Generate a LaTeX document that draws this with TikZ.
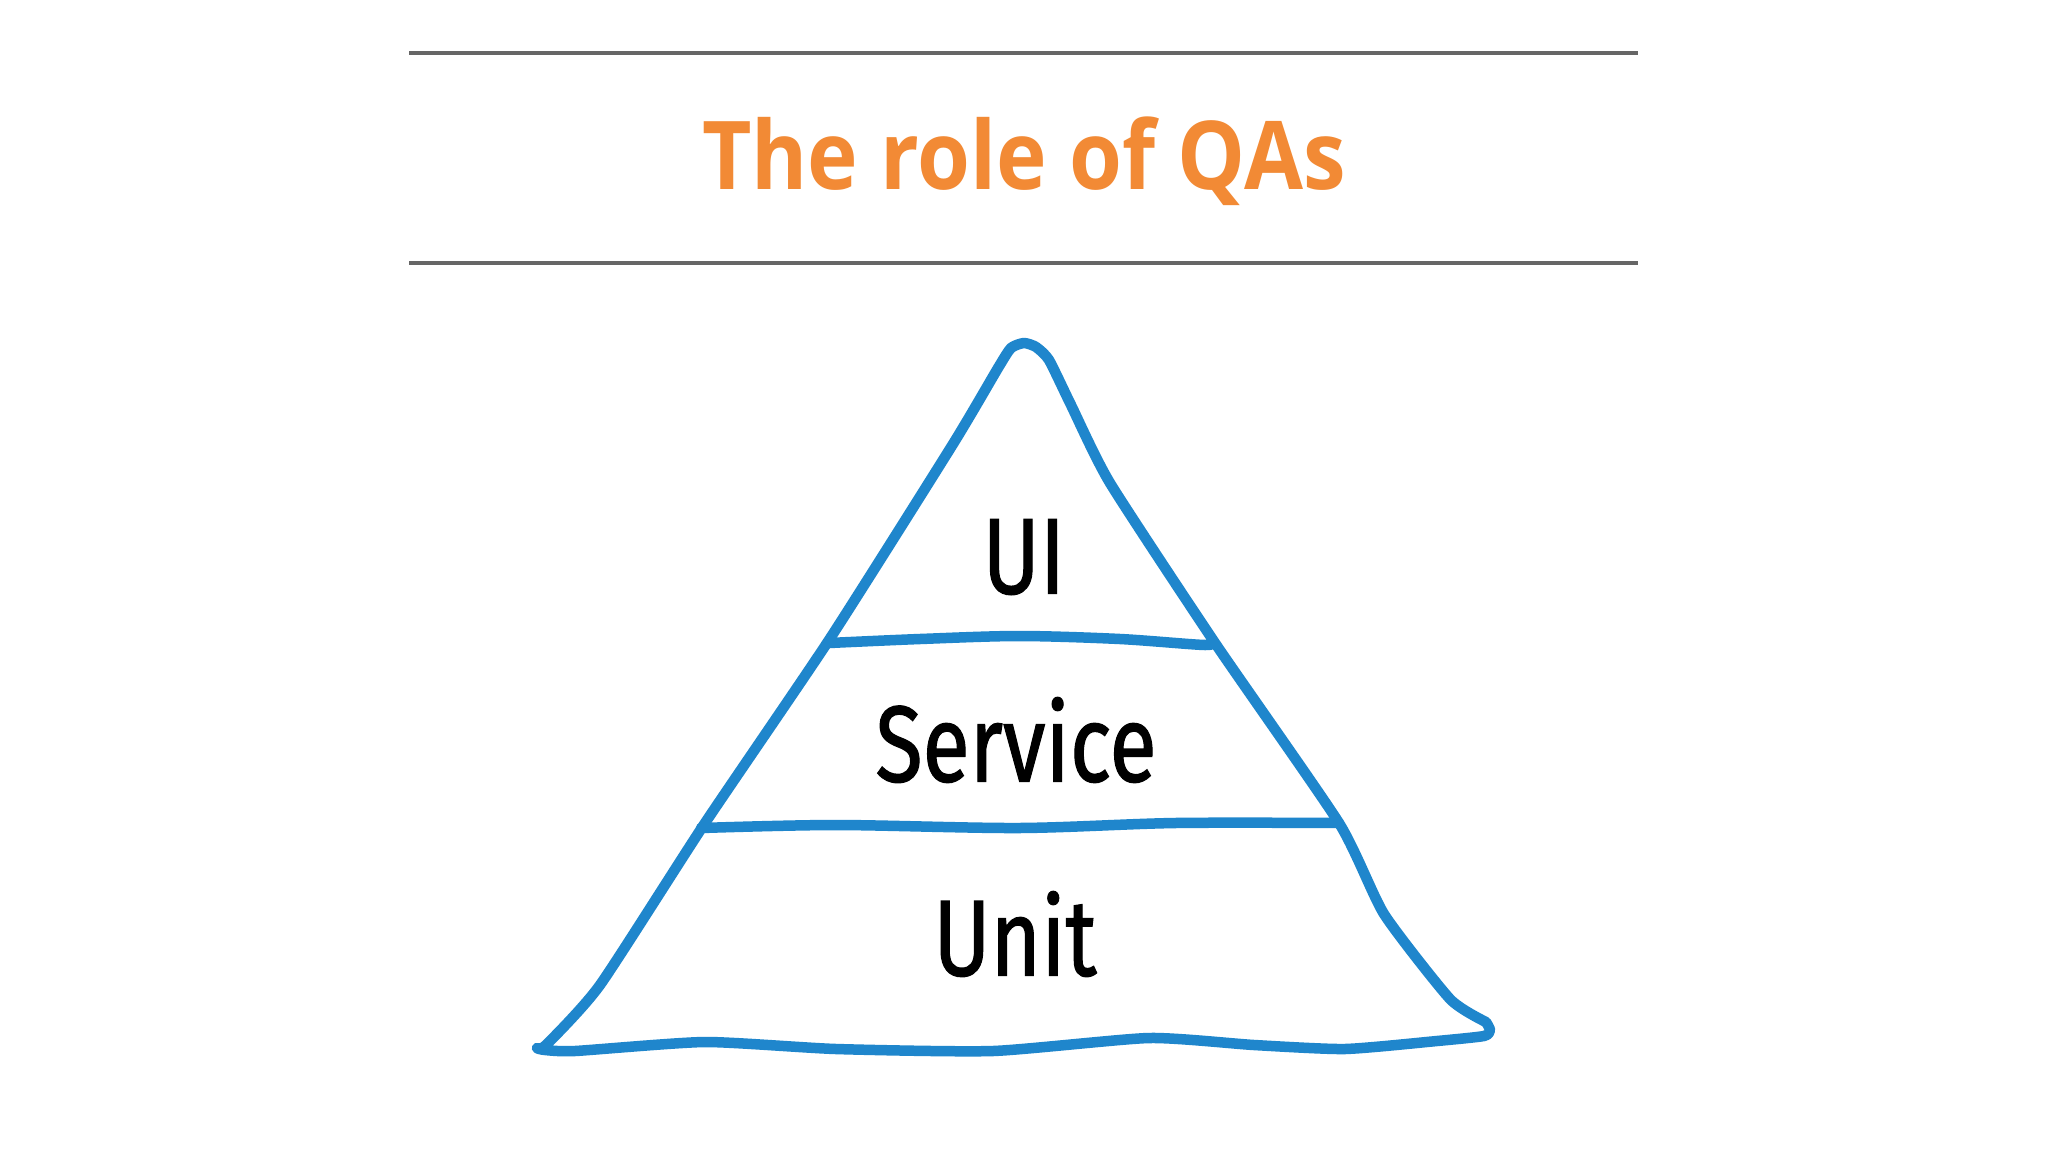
\documentclass[tikz,border=0pt]{standalone}
\usepackage{fontspec}
\newfontfamily\titlefont{Open Sans}
\newfontfamily\handfont{Fira Sans}[FakeBold=1.2]
\definecolor{qaorange}{HTML}{F28A35}
\definecolor{rulegray}{HTML}{666666}
\definecolor{pyrblue}{HTML}{1F86CC}
\tikzset{
  rulestyle/.style={draw=rulegray, line width=4pt},
  pyr/.style={draw=pyrblue, line width=10.5pt, line cap=round, line join=round},
  lbl/.style={font=\handfont\fontsize{108}{120}\selectfont, text=black, xscale=0.8, inner sep=0pt},
}
\begin{document}
\begin{tikzpicture}[x=1pt,y=-1pt]
\useasboundingbox[fill=white] (0,0) rectangle (2048,1152);
% rules and title
\coordinate (r1a) at (409,53); \coordinate (r1b) at (1638,53);
\coordinate (r2a) at (409,263); \coordinate (r2b) at (1638,263);
\draw[rulestyle] (r1a) -- (r1b);
\draw[rulestyle] (r2a) -- (r2b);
\node[xscale=0.9] (title) at (1024,161) {\titlefont\bfseries\fontsize{95}{110}\selectfont\color{qaorange}The role of QAs};
% pyramid outline
\draw[pyr] plot[smooth, tension=0.35] coordinates {
 (1486,1022) (1450,999) (1384,914) (1339,823) (1215,643)
 (1110,483) (1071,405) (1049,360) (1036,347) (1024,343)
 (1011,348) (998,368) (953,444) (829,640) (705,823) (600,985) (546,1045)
 (537,1048) (545,1050) (575,1051)
 (705,1042) (836,1049) (993,1051) (1149,1038) (1254,1045) (1345,1049)
 (1437,1041) (1484,1036) (1490,1030) (1486,1022)};
% layer lines
\draw[pyr] plot[smooth, tension=0.5] coordinates {
 (829,643) (920,639) (1019,636) (1120,639) (1205,645) (1211,641)};
\draw[pyr] plot[smooth, tension=0.5] coordinates {
 (701,828) (836,825) (1019,828) (1175,823) (1339,823)};
% labels
\node[lbl] (ui) at (1024,557) {UI};
\node[lbl] (service) at (1016,740) {Service};
\node[lbl] (unit) at (1015,934) {Unit};
\end{tikzpicture}
\end{document}
